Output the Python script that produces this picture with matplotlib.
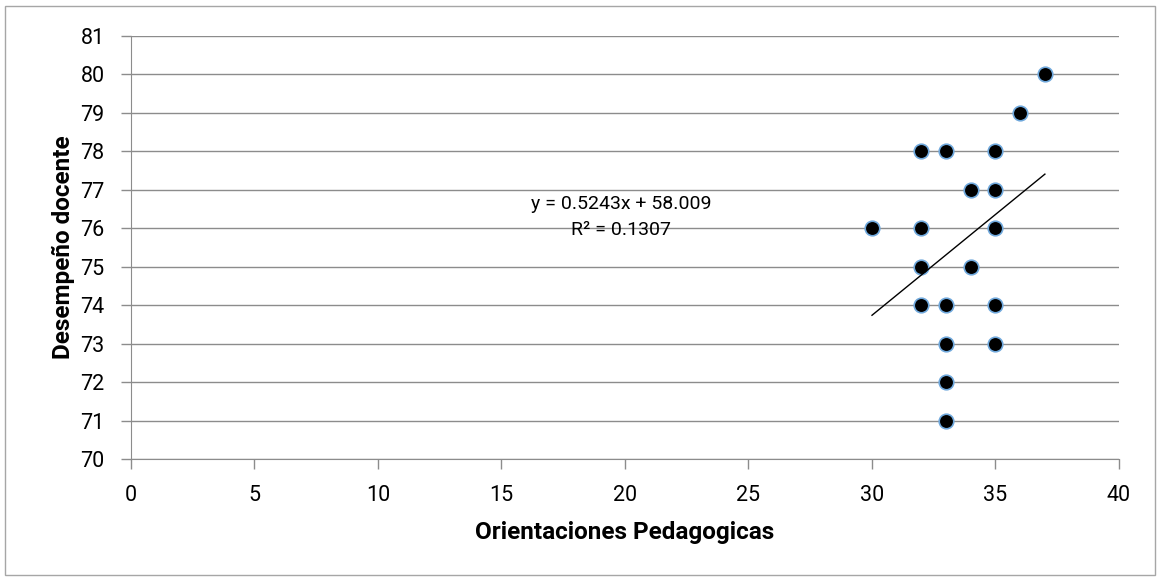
import matplotlib
matplotlib.use("Agg")
import matplotlib.pyplot as plt
from matplotlib.patches import Rectangle
import numpy as np

# data
orient = [30, 32, 32, 32, 32, 33, 33, 33, 33, 33, 34, 34, 35, 35, 35, 35, 35, 36, 37]
desemp = [76, 78, 76, 75, 74, 78, 74, 73, 72, 71, 77, 75, 78, 77, 76, 74, 73, 79, 80]
slope, intercept = 0.5243, 58.009
xticks = [0, 5, 10, 15, 20, 25, 30, 35, 40]
yticks = list(range(70, 82))

plt.rcParams['font.family'] = ['Roboto', 'DejaVu Sans']
fs = 15.5

fig = plt.figure(figsize=(11.61, 5.79), dpi=100)
ax = fig.add_axes([131 / 1161, 1 - 459 / 579, 988 / 1161, 423 / 579])

# outer chart border
fig.patches.append(Rectangle((5 / 1161, 4 / 579), 1150 / 1161, 569 / 579,
                             transform=fig.transFigure, fill=False,
                             edgecolor='#a6a6a6', linewidth=1))

ax.set_xlim(0, 40)
ax.set_ylim(70, 81)
ax.set_xticks(xticks)
ax.set_yticks(yticks)
ax.grid(axis='y', color='#8c8c8c', linewidth=1)
ax.set_axisbelow(True)

for s in ['top', 'right']:
    ax.spines[s].set_visible(False)
for s in ['left', 'bottom']:
    ax.spines[s].set_color('#8c8c8c')
ax.tick_params(colors='#8c8c8c', labelcolor='black', labelsize=fs, length=7, width=1)
ax.tick_params(axis='x', pad=12)
ax.tick_params(axis='y', pad=12)

ax.scatter(orient, desemp, s=110, color='black', edgecolors='#6fa8dc', linewidths=1.2, zorder=3)

xs = np.array([min(orient), max(orient)])
ax.plot(xs, slope * xs + intercept, color='black', linewidth=1, zorder=4)

ax.text(19.85, 76.63, f"y = {slope}x + {intercept}", ha='center', va='center', fontsize=14)
ax.text(19.85, 75.95, "R² = 0.1307", ha='center', va='center', fontsize=14)

ax.set_xlabel("Orientaciones Pedagogicas", fontsize=17.5, fontweight='bold')
ax.set_ylabel("Desempeño docente", fontsize=17.5, fontweight='bold')
ax.xaxis.label.set_va('center')
ax.yaxis.label.set_va('center')
ax.xaxis.set_label_coords(0.5, (459 - 533) / 423)
ax.yaxis.set_label_coords((63 - 131) / 988, 0.5)

fig.savefig("out.png", dpi=100)
